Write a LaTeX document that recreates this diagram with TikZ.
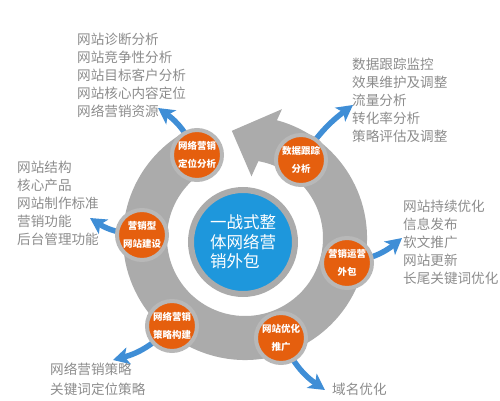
\documentclass[tikz,border=0pt]{standalone}
\usepackage{fontspec}
\setmainfont{Noto Sans CJK SC}
\usetikzlibrary{arrows.meta, positioning, calc}
\definecolor{cring}{HTML}{ABABAB}
\definecolor{cedge}{HTML}{B8B8B8}
\definecolor{corange}{HTML}{E55F0E}
\definecolor{cblue}{HTML}{1E97DC}
\definecolor{carrow}{HTML}{3F8ED6}
\definecolor{ctext}{HTML}{8C8C8C}
\pgfdeclarelayer{bg}
\pgfsetlayers{bg,main}
\tikzset{
  every picture/.style={x=1pt, y=1pt},
  hub/.style={circle, draw=cring, fill=cblue, line width=6pt, minimum size=104pt, inner sep=0pt, align=left, text=white,
    font=\fontsize{16.5}{19.5}\selectfont},
  stage/.style={circle, draw=cedge, fill=corange, line width=4pt, minimum size=50pt, inner sep=0pt, align=center, text=white,
    font=\bfseries\fontsize{9.5}{18}\selectfont},
  items/.style={anchor=north west, inner sep=0pt, align=left, text=ctext, font=\fontsize{13.6}{18}\selectfont},
  swoosh/.style={-{Stealth[width=17pt, length=16pt, inset=4pt]}, draw=carrow, line width=5.5pt},
}

\begin{document}
\begin{tikzpicture}
  \useasboundingbox (0,0) rectangle (500,400);
  % centre
  \node[hub] (hub) at (243,158) {一战式整\\体网络营\\销外包};
  % stages round the ring
  \node[stage] (s1) at (197,245) {网络营销\\定位分析};
  \node[stage] (s2) at (301,240) {数据跟踪\\分析};
  \node[stage] (s3) at (347,137) {营销运营\\外包};
  \node[stage] (s4) at (281,62) {网站优化\\推广};
  \node[stage] (s5) at (172,74) {网络营销\\策略构建};
  \node[stage] (s6) at (142,165) {营销型\\网站建设};
  % lists
  \node[items] (l1) at (77,367) {网站诊断分析\\网站竞争性分析\\网站目标客户分析\\网站核心内容定位\\网络营销资源};
  \node[items] (l2) at (352,342) {数据跟踪监控\\效果维护及调整\\流量分析\\转化率分析\\策略评估及调整};
  \node[items] (l3) at (17,239) {网站结构\\核心产品\\网站制作标准\\营销功能\\后台管理功能};
  \node[items] (l4) at (403,200) {网站持续优化\\信息发布\\软文推广\\网站更新\\长尾关键词优化};
  \node[items, font=\fontsize{13.6}{20}\selectfont] (l5) at (50,37) {网络营销策略\\关键词定位策略};
  \node[items] (l6) at (332,17) {域名优化};
  % arrow tips
  \coordinate (t1) at (158,292);
  \coordinate (t2) at (353,295);
  \coordinate (t3) at (90,182);
  \coordinate (t4) at (402,162);
  \coordinate (t5) at (113,40);
  \coordinate (t6) at (325,10);
  \begin{pgfonlayer}{bg}
    % ring with its head
    \fill[cring, shift={(245,162)}] (76:122) arc[start angle=76, end angle=-240, radius=122]
      -- (-240:78) arc[start angle=-240, end angle=82, radius=78] -- cycle;
    \fill[cring, shift={(245,162)}] (74:134) -- (97:108) -- (84:62) -- cycle;
    % blue arrows
    \draw[swoosh] (s1.center) to[bend right=15] (t1);
    \draw[swoosh] (s2.center) to[bend left=10] (t2);
    \draw[swoosh] (s6.center) to[bend left=15] (t3);
    \draw[swoosh] (s3.center) to[bend right=15] (t4);
    \draw[swoosh] (s5.center) to[bend left=15] (t5);
    \draw[swoosh] (s4.center) to[bend right=15] (t6);
  \end{pgfonlayer}
\end{tikzpicture}
\end{document}
